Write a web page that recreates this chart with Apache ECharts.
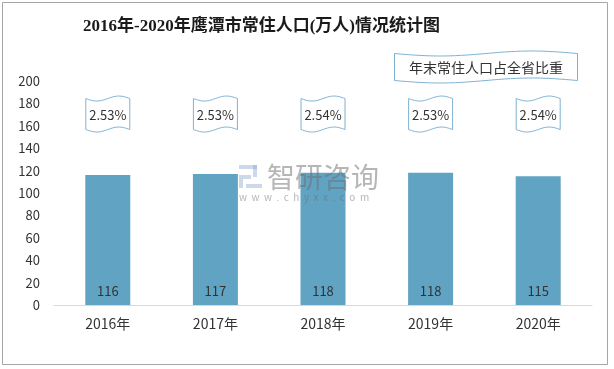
<!DOCTYPE html>
<html><head><meta charset="utf-8">
<script src="https://cdn.jsdelivr.net/npm/echarts@6/dist/echarts.min.js"></script>
<style>html,body{margin:0;padding:0;background:#fff}#c{width:614px;height:369px}</style>
</head><body><div id="c"></div>
<script>
const categories = ['2016年','2017年','2018年','2019年','2020年'];
const population = [116, 117, 118, 118, 115];
const shareLabels = ['2.53%','2.53%','2.54%','2.53%','2.54%'];
const yTicks = [0,20,40,60,80,100,120,140,160,180,200];

// wave-shaped outline (Excel "wave" shape) as polygon points
function wavePoints(x0, y0, w, h, a) {
  const pts = [];
  const n = 30;
  for (let i = 0; i <= n; i++) {
    const t = i / n;
    pts.push([x0 + w * t, y0 + a * Math.sin(2 * Math.PI * t)]);
  }
  for (let i = n; i >= 0; i--) {
    const t = i / n;
    pts.push([x0 + w * t, y0 + h + a * Math.sin(2 * Math.PI * t)]);
  }
  return pts;
}

const chart = echarts.init(document.getElementById('c'));
const FONT = '"Microsoft YaHei", "Noto Sans CJK SC", "DejaVu Sans", sans-serif';
const WM = 'rgba(110,110,110,0.5)';
const WB = 'rgba(140,170,210,0.45)';
chart.setOption({
  animation: false,
  textStyle: { fontFamily: FONT },
  title: {
    text: '2016年-2020年鹰潭市常住人口(万人)情况统计图',
    left: 78, top: 13,
    textStyle: { fontFamily: '"Liberation Serif", "Noto Sans CJK SC", serif', fontSize: 17, fontWeight: 'bold', color: '#1a1a1a' }
  },
  grid: { left: 54, right: 22, top: 81, bottom: 64 },
  xAxis: {
    type: 'category', data: categories,
    axisLine: { lineStyle: { color: '#D9D9D9', width: 1 } },
    axisTick: { show: false },
    axisLabel: { color: '#333', fontSize: 14, margin: 12 }
  },
  yAxis: {
    type: 'value', min: 0, max: 200, interval: 20,
    axisLine: { show: false }, axisTick: { show: false },
    splitLine: { show: false },
    axisLabel: { color: '#333', fontSize: 13, margin: 14 }
  },
  series: [
    {
      type: 'bar', data: population, barWidth: 45,
      itemStyle: { color: '#61A3C3' },
      label: { show: true, position: 'insideBottom', distance: 7, color: '#333', fontSize: 13 }
    },
    {
      type: 'custom',
      data: shareLabels.map((s, i) => [i, parseFloat(s)]),
      renderItem: function (params, api) {
        const p = api.coord([api.value(0), 170.5]);
        const w = 44, h = 31;
        const x0 = p[0] - w/2, y0 = p[1] - h/2;
        return {
          type: 'group',
          children: [
            { type: 'polygon', shape: { points: wavePoints(x0, y0, w, h, 2.5) },
              style: { fill: '#fff', stroke: '#7FB2D2', lineWidth: 1 } },
            { type: 'text', x: p[0], y: p[1] + 1,
              style: { text: shareLabels[params.dataIndex], fill: '#333', fontSize: 13, fontFamily: FONT,
                       align: 'center', verticalAlign: 'middle' } }
          ]
        };
      },
      z: 5
    }
  ],
  graphic: [
    { type: 'rect', shape: { x: 2.5, y: 2.5, width: 605, height: 362 },
      style: { fill: 'none', stroke: '#A6A6A6', lineWidth: 1 }, silent: true },
    { type: 'polygon', shape: { points: wavePoints(394.5, 53.5, 183, 27, 2.5) },
      style: { fill: '#fff', stroke: '#7FB2D2', lineWidth: 1 } },
    { type: 'text', x: 486, y: 67.5,
      style: { text: '年末常住人口占全省比重', fill: '#333', fontSize: 14, fontFamily: FONT, align: 'center', verticalAlign: 'middle' } },
    // watermark
    { type: 'rect', z: 100, silent: true, shape: { x: 239, y: 165, width: 18, height: 4 }, style: { fill: WB } },
    { type: 'rect', z: 100, silent: true, shape: { x: 253, y: 165, width: 4, height: 12 }, style: { fill: WB } },
    { type: 'rect', z: 100, silent: true, shape: { x: 239, y: 175, width: 4, height: 13 }, style: { fill: WB } },
    { type: 'rect', z: 100, silent: true, shape: { x: 243, y: 175, width: 8, height: 4 }, style: { fill: WB } },
    { type: 'rect', z: 100, silent: true, shape: { x: 246, y: 184, width: 16, height: 4 }, style: { fill: WB } },
    { type: 'text', z: 100, silent: true, x: 267, y: 177, style: { text: '智研咨询', fill: WM, fontSize: 28, fontFamily: FONT, verticalAlign: 'middle' } },
    { type: 'text', z: 100, silent: true, x: 239, y: 197, style: { text: 'w  w  w  .  c  h  y  x  x  .  c  o  m', fill: WM, fontSize: 10, fontFamily: FONT, verticalAlign: 'middle' } }
  ]
});
</script></body></html>
